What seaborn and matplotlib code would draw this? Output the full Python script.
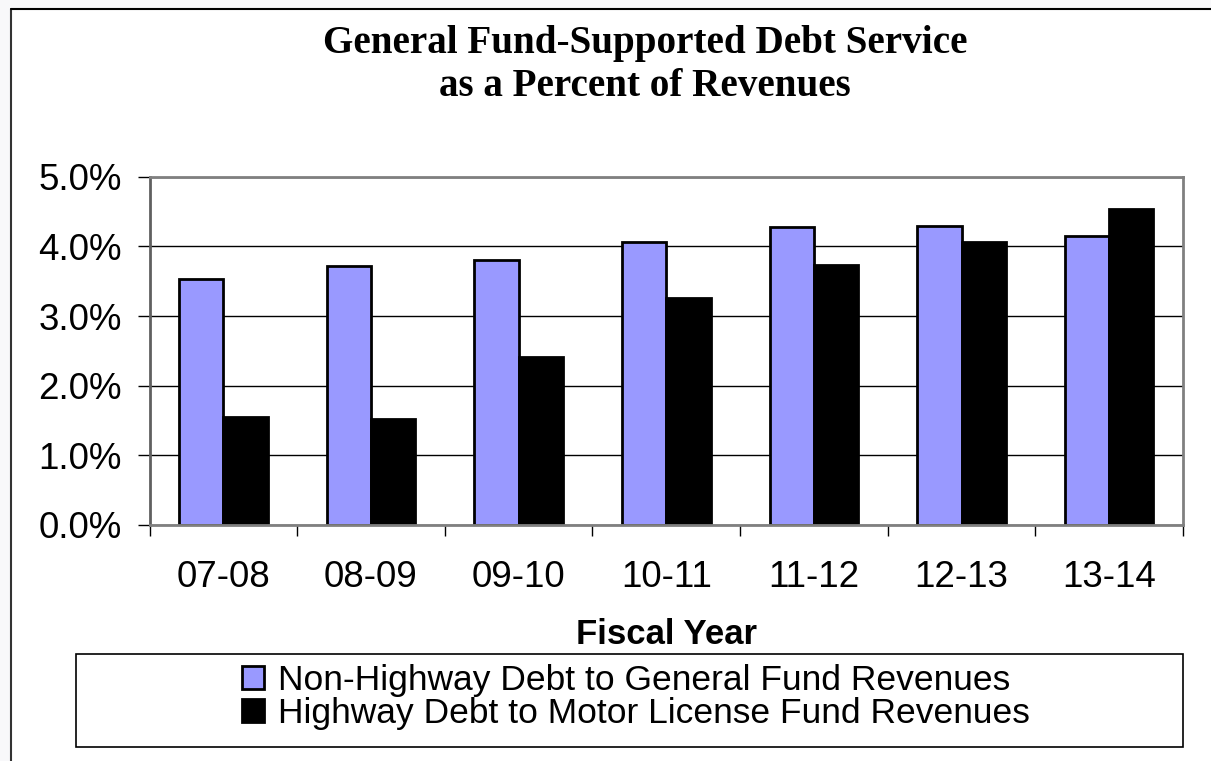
import matplotlib
matplotlib.use("Agg")
import matplotlib.pyplot as plt
import seaborn as sns
import pandas as pd
import numpy as np
from matplotlib.ticker import PercentFormatter, FixedLocator
from matplotlib.patches import Rectangle
from matplotlib.lines import Line2D

# Fiscal years and debt service ratios (percent of revenues)
years = ["07-08", "08-09", "09-10", "10-11", "11-12", "12-13", "13-14"]
non_highway = [3.53, 3.72, 3.81, 4.06, 4.28, 4.29, 4.15]
highway = [1.55, 1.52, 2.41, 3.26, 3.73, 4.06, 4.53]
series_names = ["Non-Highway Debt to General Fund Revenues",
                "Highway Debt to Motor License Fund Revenues"]
series_colors = ["#9999FF", "#000000"]
y_ticks = [0, 1, 2, 3, 4, 5]

df = pd.DataFrame({
    "Fiscal Year": years * 2,
    "Percent": non_highway + highway,
    "Series": [series_names[0]] * len(years) + [series_names[1]] * len(years),
})

sns.set_theme(style="white")
plt.rcParams["font.family"] = ["Liberation Sans", "DejaVu Sans"]
plt.rcParams["text.color"] = "black"

W, H = 1211, 761
fig = plt.figure(figsize=(W / 100, H / 100), dpi=100, facecolor="#f8f8fa")

# white chart area with dark left/top frame lines
fig.add_artist(Rectangle((11 / W, 0), 1 - 11 / W, (H - 9) / H, transform=fig.transFigure,
                         facecolor="white", edgecolor="none", zorder=-2))
fig.add_artist(Line2D([11 / W, 11 / W], [0, (H - 9) / H], color="#333333", lw=1.5, zorder=-1))
fig.add_artist(Line2D([11 / W, 1], [(H - 9) / H, (H - 9) / H], color="black", lw=1.5, zorder=-1))

ax = fig.add_axes([149.5 / W, (H - 525) / H, (1183 - 149.5) / W, (525 - 176.7) / H])
sns.barplot(data=df, x="Fiscal Year", y="Percent", hue="Series", palette=series_colors,
            saturation=1, width=0.6, gap=0, edgecolor="black", linewidth=2,
            errorbar=None, ax=ax)

ax.set_xlim(-0.5, len(years) - 0.5)
ax.set_ylim(0, 5)
ax.yaxis.set_major_locator(FixedLocator(y_ticks))
ax.yaxis.set_major_formatter(PercentFormatter(xmax=100, decimals=1))
ax.set_axisbelow(True)
ax.grid(axis="y", color="black", lw=1)
ax.grid(axis="x", visible=False)
for side in ["left", "right", "top", "bottom"]:
    ax.spines[side].set_visible(True)
    ax.spines[side].set_color("#808080")
    ax.spines[side].set_linewidth(2)
ax.spines["left"].set_color("#606060")

ax.tick_params(axis="y", which="major", direction="out", length=9, width=1,
               color="black", labelsize=26.5, pad=11, left=True)
ax.set_xticks(np.arange(-0.5, len(years), 1), minor=True)
ax.tick_params(axis="x", which="minor", direction="out", length=8, width=1,
               color="black", bottom=True)
ax.tick_params(axis="x", which="major", length=0, labelsize=26.5, pad=25)
for lbl in ax.get_xticklabels() + ax.get_yticklabels():
    lbl.set_color("black")

ax.set_ylabel("")
ax.set_xlabel("Fiscal Year", fontsize=25, fontweight="bold", color="black", labelpad=17)

# legend in a framed box below the axis title
handles, labels = ax.get_legend_handles_labels()
ax.get_legend().remove()
leg = fig.legend(handles, labels, loc="center", bbox_to_anchor=(636 / W, 1 - 697 / H),
                 frameon=False, fontsize=25.5, handlelength=0.62, handleheight=0.62,
                 handletextpad=0.38, labelspacing=-0.02, borderpad=0)
for t in leg.get_texts():
    t.set_color("black")
fig.add_artist(Rectangle((76 / W, 1 - 747 / H), (1183 - 76) / W, (747 - 654) / H,
                         transform=fig.transFigure, fill=False, edgecolor="black", lw=1.2))

# two-line serif title
title_font = dict(family=["Liberation Serif", "DejaVu Serif"], fontweight="bold",
                  fontsize=28.2, color="black", ha="center", va="baseline")
fig.text(645 / W, 1 - 53 / H, "General Fund-Supported Debt Service", **title_font)
fig.text(645 / W, 1 - 96 / H, "as a Percent of Revenues", **title_font)

fig.savefig("out.png", dpi=100, facecolor=fig.get_facecolor())
